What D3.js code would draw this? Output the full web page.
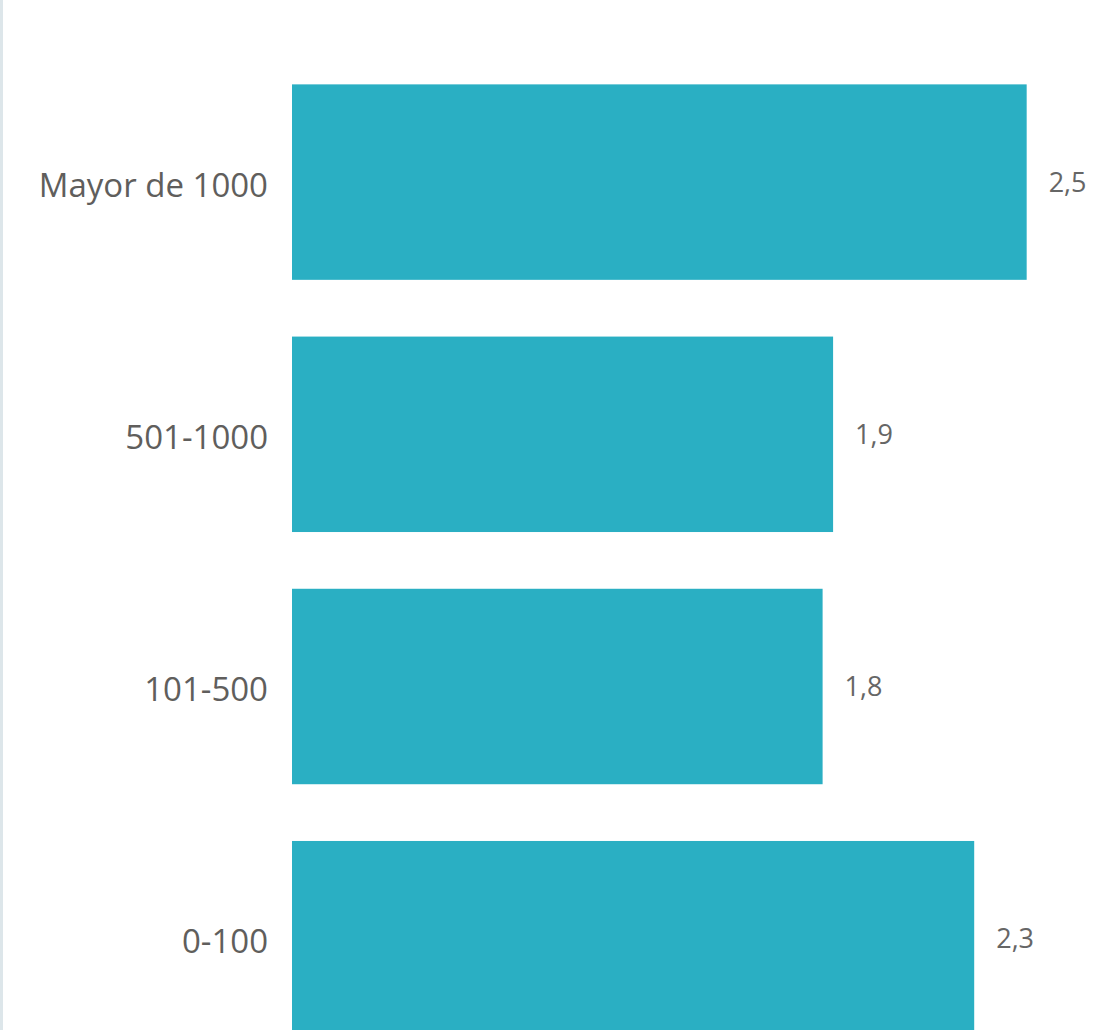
<!DOCTYPE html>
<html lang="es">
<head>
    <meta charset="UTF-8">
    <meta name="viewport" content="width=device-width, initial-scale=1.0">
    <title>Barras por tamaño</title>
    <script src="https://d3js.org/d3.v7.min.js"></script>
    <style>
        body {
            font-family: 'Open Sans', sans-serif;
            background-color: #fff;
            margin: 0;
            padding: 0;
            overflow: hidden;
        }
        svg {
            display: block;
            background-color: #fff;
        }
        .bar {
            fill: #2AAFC3;
        }
        .cat-label {
            font-size: 33px;
            fill: #605E5C;
        }
        .value-label {
            font-size: 27px;
            fill: #666666;
        }
    </style>
</head>
<body>
    <svg width="1093" height="1030"></svg>
    <script>
        // categories, top to bottom
        const categories = ["Mayor de 1000", "501-1000", "101-500", "0-100"];
        const values = [2.52, 1.856, 1.82, 2.34];

        const width = 1093, height = 1030;
        const svg = d3.select("svg").attr("width", width).attr("height", height);

        // thin border on the left edge
        svg.append("rect")
            .attr("x", 0)
            .attr("y", 0)
            .attr("width", 3)
            .attr("height", height)
            .attr("fill", "#DDE6EA");

        const x = d3.scaleLinear()
            .domain([0, 2.6])
            .range([292, 292 + 758]);

        const y = d3.scaleBand()
            .domain(categories)
            .range([56, 56 + 4 * 252.2])
            .paddingInner(0.225)
            .paddingOuter(0.1125);

        const fmt = d3.formatLocale({
            decimal: ",",
            thousands: ".",
            grouping: [3],
            currency: ["", " €"]
        }).format(".1f");

        const rows = categories.map((c, i) => ({ name: c, value: values[i] }));

        svg.selectAll(".bar")
            .data(rows)
            .enter()
            .append("rect")
            .attr("class", "bar")
            .attr("x", x(0))
            .attr("y", d => y(d.name))
            .attr("width", d => x(d.value) - x(0))
            .attr("height", y.bandwidth());

        svg.selectAll(".cat-label")
            .data(rows)
            .enter()
            .append("text")
            .attr("class", "cat-label")
            .attr("x", 268)
            .attr("y", d => y(d.name) + y.bandwidth() / 2)
            .attr("dy", "0.44em")
            .attr("text-anchor", "end")
            .text(d => d.name);

        svg.selectAll(".value-label")
            .data(rows)
            .enter()
            .append("text")
            .attr("class", "value-label")
            .attr("x", d => x(d.value) + 22)
            .attr("y", d => y(d.name) + y.bandwidth() / 2)
            .attr("dy", "0.35em")
            .text(d => fmt(d.value));
    </script>
</body>
</html>
